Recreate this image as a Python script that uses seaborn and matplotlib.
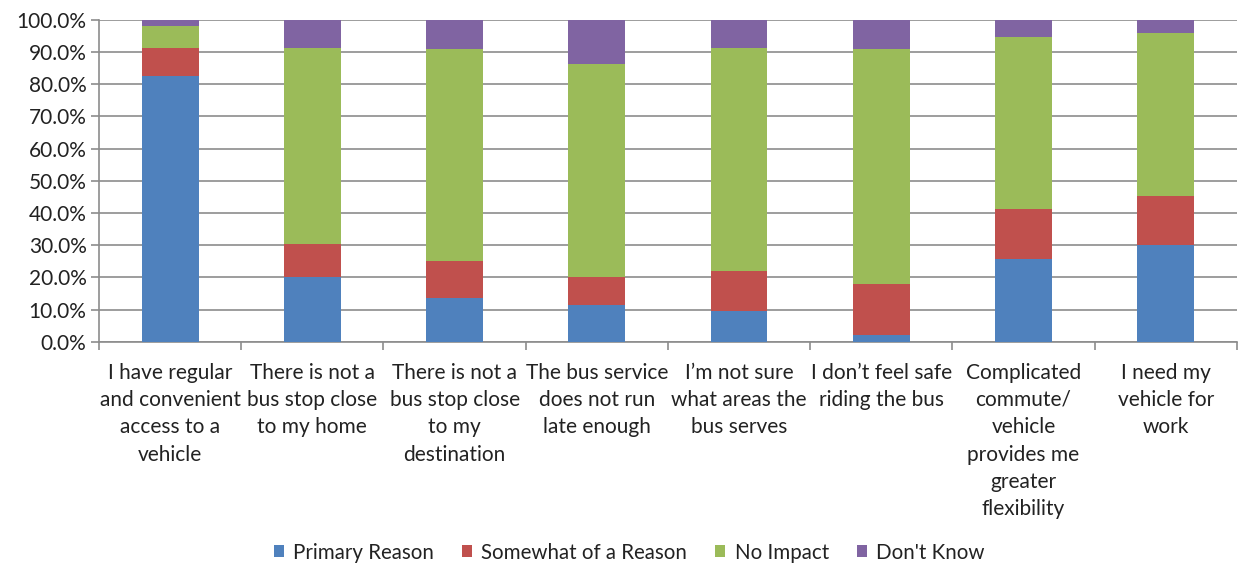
import numpy as np
import pandas as pd
import matplotlib
matplotlib.use("Agg")
import matplotlib.pyplot as plt
import seaborn as sns
from matplotlib.patches import Patch
from matplotlib.ticker import FuncFormatter

categories = [
    "I have regular\nand convenient\naccess to a\nvehicle",
    "There is not a\nbus stop close\nto my home",
    "There is not a\nbus stop close\nto my\ndestination",
    "The bus service\ndoes not run\nlate enough",
    "I\u2019m not sure\nwhat areas the\nbus serves",
    "I don\u2019t feel safe\nriding the bus",
    "Complicated\ncommute/\nvehicle\nprovides me\ngreater\nflexibility",
    "I need my\nvehicle for\nwork",
]
series_names = ["Primary Reason", "Somewhat of a Reason", "No Impact", "Don't Know"]
primary = [82.6, 20.1, 13.5, 11.4, 9.5, 2.2, 25.7, 30.1]
somewhat = [8.8, 10.3, 11.6, 8.7, 12.6, 15.6, 15.6, 15.2]
no_impact = [6.6, 61.0, 65.7, 66.3, 69.3, 73.0, 53.4, 50.5]
dont_know = [2.0, 8.6, 9.2, 13.6, 8.6, 9.2, 5.3, 4.2]
colors = ["#4F81BD", "#C0504D", "#9BBB59", "#8064A2"]

sns.set_theme(style="white")
plt.rcParams['font.family'] = ['Lato', 'DejaVu Sans']

values = np.array([primary, somewhat, no_impact, dont_know])
cum = np.cumsum(values, axis=0)

fig = plt.figure(figsize=(12.41, 5.63), dpi=100)
ax = fig.add_axes([0.0798, 0.393, 0.9168, 0.5717])

# draw cumulative layers from top down
for i in range(3, -1, -1):
    df = pd.DataFrame({"cat": categories, "val": cum[i]})
    sns.barplot(data=df, x="cat", y="val", color=colors[i], width=0.40,
                saturation=1, ax=ax, zorder=3, edgecolor="none", linewidth=0)

ax.set_ylim(0, 100)
ax.set_xlim(-0.5, len(categories) - 0.5)
ax.set_yticks(np.arange(0, 101, 10))
ax.yaxis.set_major_formatter(FuncFormatter(lambda v, p: f"{v:.1f}%"))
ax.grid(axis="y", color="#8C8C8C", linewidth=1.2, zorder=0)
ax.set_axisbelow(True)
ax.set_xlabel("")
ax.set_ylabel("")

for s in ["top", "right"]:
    ax.spines[s].set_visible(False)
for s in ["left", "bottom"]:
    ax.spines[s].set_color("#8C8C8C")
    ax.spines[s].set_linewidth(1.2)

ax.tick_params(axis="y", which="major", length=6, width=1.2, color="#8C8C8C",
               labelsize=15, labelcolor="#222222", pad=3, left=True)
ax.tick_params(axis="x", which="major", length=0, labelsize=15,
               labelcolor="#222222", pad=15)
ax.set_xticks(np.arange(-0.5, len(categories)), minor=True)
ax.tick_params(axis="x", which="minor", length=6, width=1.2, color="#8C8C8C",
               bottom=True)
for lbl in ax.get_xticklabels():
    lbl.set_linespacing(1.46)

handles = [Patch(facecolor=c, edgecolor="none") for c in colors]
fig.legend(handles, series_names, loc="lower center", ncol=4, frameon=False,
           bbox_to_anchor=(0.507, -0.032), fontsize=14.8, handlelength=0.5,
           handleheight=0.5, handletextpad=0.45, columnspacing=1.35,
           labelcolor="#222222")

fig.savefig("out.png", dpi=100)
